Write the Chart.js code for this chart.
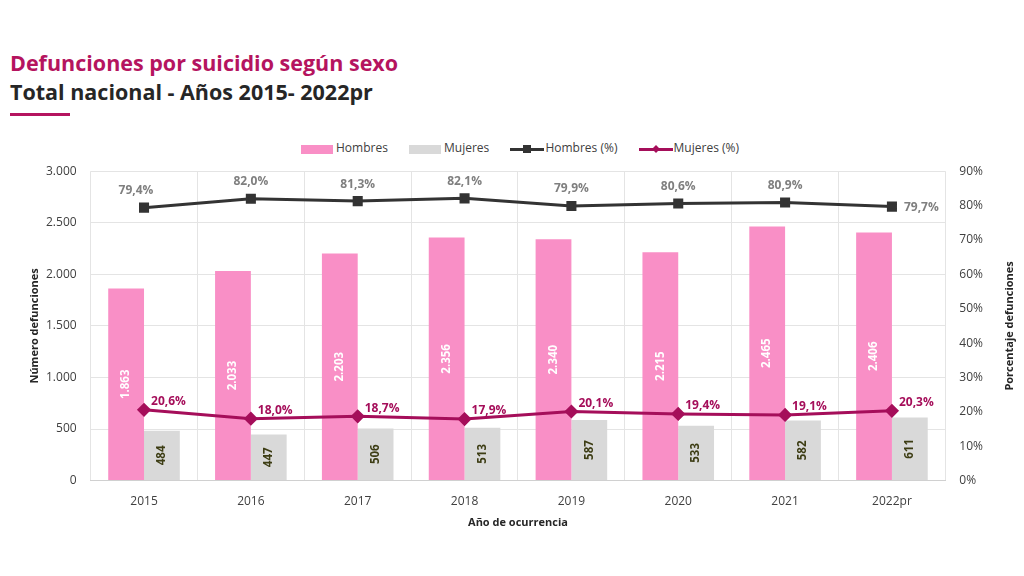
<!DOCTYPE html>
<html lang="es">
<head>
<meta charset="UTF-8">
<title>Defunciones por suicidio según sexo</title>
<script src="https://cdn.jsdelivr.net/npm/chart.js"></script>
<style>
  body { margin: 0; width: 1024px; height: 576px; background: #fff; font-family: "Open Sans", sans-serif; position: relative; overflow: hidden; }
  .t1 { position: absolute; left: 10px; top: 48px; font-size: 21.5px; font-weight: bold; color: #b5145f; }
  .t2 { position: absolute; left: 10px; top: 77px; font-size: 21.5px; font-weight: bold; color: #262626; }
  .rule { position: absolute; left: 10px; top: 113px; width: 60px; height: 3px; background: #b5145f; }
  #legend { position: absolute; left: 0; top: 138px; width: 1040px; text-align: center; font-size: 12px; color: #404040; }
  #legend span.item { display: inline-block; margin: 0 9px; vertical-align: middle; }
  .box { display: inline-block; width: 32px; height: 9px; vertical-align: middle; margin-right: 3px; }
  .ln { display: inline-block; position: relative; width: 34px; height: 3px; vertical-align: middle; margin-right: 1px; }
  .ln i { position: absolute; left: 13px; top: -3px; width: 8px; height: 8px; }
  .wrap { position: absolute; left: 0; top: 150px; width: 1024px; height: 398px; }
</style>
</head>
<body>
<div class="t1">Defunciones por suicidio según sexo</div>
<div class="t2">Total nacional - Años 2015- 2022pr</div>
<div class="rule"></div>
<div id="legend">
  <span class="item"><span class="box" style="background:#f98fc6"></span>Hombres</span>
  <span class="item"><span class="box" style="background:#d9d9d9"></span>Mujeres</span>
  <span class="item"><span class="ln" style="background:#333"><i style="background:#333"></i></span>Hombres (%)</span>
  <span class="item"><span class="ln" style="background:#a50e5a"><i style="background:#a50e5a;transform:rotate(45deg) scale(0.7)"></i></span>Mujeres (%)</span>
</div>
<div class="wrap"><canvas id="c"></canvas></div>
<script>
var anios = ['2015', '2016', '2017', '2018', '2019', '2020', '2021', '2022pr'];
var hombres = [1863, 2033, 2203, 2356, 2340, 2215, 2465, 2406];
var mujeres = [484, 447, 506, 513, 587, 533, 582, 611];
var hombresPct = [79.4, 82.0, 81.3, 82.1, 79.9, 80.6, 80.9, 79.7];
var mujeresPct = [20.6, 18.0, 18.7, 17.9, 20.1, 19.4, 19.1, 20.3];

function miles(v) { return String(v).replace(/\B(?=(\d{3})+(?!\d))/g, '.'); }
function pct(v) { return v.toFixed(1).replace('.', ',') + '%'; }

// etiquetas de datos y títulos de los ejes, dibujados a mano
var etiquetas = {
  id: 'etiquetas',
  afterDatasetsDraw: function (chart) {
    var ctx = chart.ctx;
    ctx.save();
    // barras: texto vertical
    [0, 1].forEach(function (di) {
      var meta = chart.getDatasetMeta(di);
      meta.data.forEach(function (bar, i) {
        var v = chart.data.datasets[di].data[i];
        var cy = (bar.y + bar.base) / 2;
        ctx.save();
        ctx.translate(bar.x, cy);
        ctx.rotate(-Math.PI / 2);
        ctx.font = 'bold 11.5px "Open Sans"';
        ctx.fillStyle = di === 0 ? '#ffffff' : '#3d3d14';
        ctx.textAlign = 'center';
        ctx.textBaseline = 'middle';
        ctx.fillText(miles(v), 0, 0);
        ctx.restore();
      });
    });
    // línea hombres
    var m2 = chart.getDatasetMeta(2);
    ctx.font = 'bold 12px "Open Sans"';
    ctx.fillStyle = '#7f7f7f';
    ctx.textBaseline = 'middle';
    m2.data.forEach(function (p, i) {
      var txt = pct(hombresPct[i]);
      if (i === m2.data.length - 1) {
        ctx.textAlign = 'left';
        ctx.fillText(txt, p.x + 12, p.y + 1);
      } else {
        ctx.textAlign = 'center';
        ctx.fillText(txt, p.x - (i === 0 ? 8 : 0), p.y - 17);
      }
    });
    // línea mujeres
    var m3 = chart.getDatasetMeta(3);
    ctx.fillStyle = '#a50e5a';
    ctx.textAlign = 'left';
    m3.data.forEach(function (p, i) {
      ctx.fillText(pct(mujeresPct[i]), p.x + 7, p.y - 8);
    });
    // títulos de ejes
    var a = chart.chartArea;
    ctx.font = 'bold 11px "Open Sans"';
    ctx.fillStyle = '#262626';
    ctx.textAlign = 'center';
    ctx.fillText('Año de ocurrencia', (a.left + a.right) / 2, a.bottom + 42);
    [[35, 'Número defunciones'], [1010, 'Porcentaje defunciones']].forEach(function (t) {
      ctx.save();
      ctx.translate(t[0], (a.top + a.bottom) / 2);
      ctx.rotate(-Math.PI / 2);
      ctx.fillText(t[1], 0, 0);
      ctx.restore();
    });
    ctx.restore();
  }
};

new Chart(document.getElementById('c'), {
  type: 'bar',
  data: {
    labels: anios,
    datasets: [
      { label: 'Hombres', data: hombres, backgroundColor: '#f98fc6', yAxisID: 'y', order: 3,
        categoryPercentage: 0.67, barPercentage: 1 },
      { label: 'Mujeres', data: mujeres, backgroundColor: '#d9d9d9', yAxisID: 'y', order: 4,
        categoryPercentage: 0.67, barPercentage: 1 },
      { type: 'line', label: 'Hombres (%)', data: hombresPct, yAxisID: 'y2', order: 1,
        borderColor: '#333333', backgroundColor: '#333333', borderWidth: 3,
        pointStyle: 'rect', pointRadius: 5, pointHoverRadius: 5 },
      { type: 'line', label: 'Mujeres (%)', data: mujeresPct, yAxisID: 'y2', order: 2,
        borderColor: '#a50e5a', backgroundColor: '#a50e5a', borderWidth: 3,
        pointStyle: 'rectRot', pointRadius: 5, pointHoverRadius: 5 }
    ]
  },
  options: {
    responsive: true,
    maintainAspectRatio: false,
    animation: false,
    layout: { padding: { left: 32, right: 27, top: 5, bottom: 25 } },
    plugins: { legend: { display: false }, tooltip: { enabled: false } },
    scales: {
      x: {
        grid: { color: '#e4e4e4', drawTicks: false },
        border: { color: '#d0d0d0' },
        ticks: { color: '#404040', font: { family: 'Open Sans', size: 12 }, padding: 14 }
      },
      y: {
        position: 'left', min: 0, max: 3000,
        ticks: { stepSize: 500, color: '#404040', font: { family: 'Open Sans', size: 12 }, padding: 14,
          callback: function (v) { return miles(v); } },
        grid: { color: '#e4e4e4', drawTicks: false },
        border: { display: false }
      },
      y2: {
        position: 'right', min: 0, max: 90,
        ticks: { stepSize: 10, color: '#404040', font: { family: 'Open Sans', size: 12 }, padding: 14,
          callback: function (v) { return v + '%'; } },
        grid: { display: false, drawTicks: false },
        border: { display: false }
      }
    }
  },
  plugins: [etiquetas]
});
</script>
</body>
</html>
